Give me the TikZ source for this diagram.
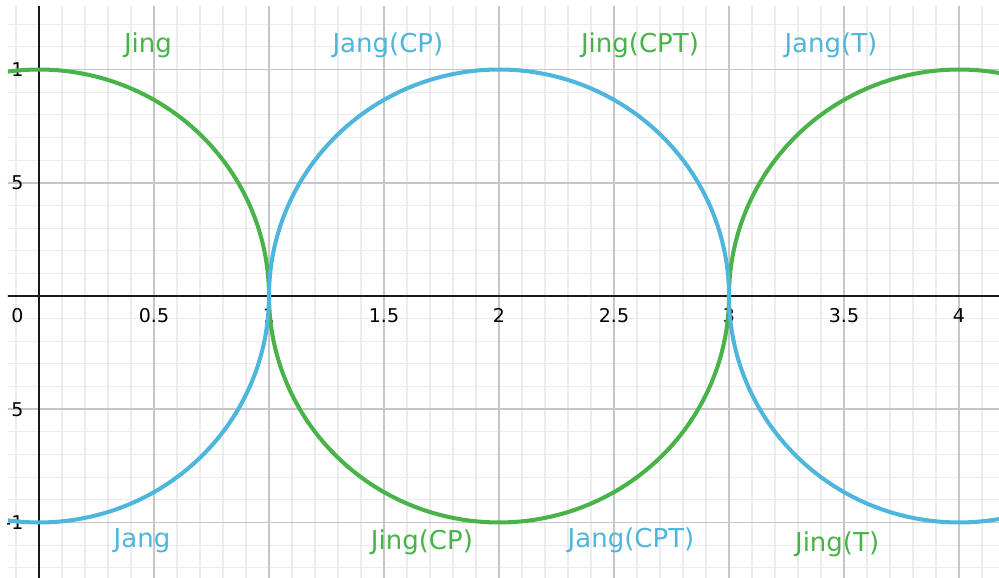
\documentclass[tikz,border=0pt]{standalone}
\usepackage{fontspec}
\setmainfont{DejaVu Sans}
\usepackage{xcolor}
\usepackage{tikz}
\definecolor{cJing}{HTML}{48B348}
\definecolor{cJang}{HTML}{4EB6DC}
\definecolor{minorgrid}{HTML}{ECECEC}
\definecolor{majorgrid}{HTML}{C6C6C6}
\tikzset{curve/.style={line width=1.15pt,line cap=round,line join=round},
  tag/.style={font=\fontsize{7.4}{8}\selectfont,inner sep=0pt},
  num/.style={font=\fontsize{5.4}{6}\selectfont,inner sep=0pt}}

\begin{document}
\begin{tikzpicture}[x=2.3cm,y=2.265cm]
  \useasboundingbox (-0.16957,-1.24503) rectangle (4.17391,1.30684);
  \begin{scope}
    \clip (-0.1348,-1.24503) rectangle (4.17391,1.2759);
    % grid
    \foreach \i in {-2,...,42} \draw[minorgrid,line width=0.3pt] (\i/10,-1.3) -- (\i/10,1.3);
    \foreach \j in {-13,...,13} \draw[minorgrid,line width=0.3pt] (-0.2,\j/10) -- (4.2,\j/10);
    \foreach \i in {0,...,8} \draw[majorgrid,line width=0.45pt] (\i/2,-1.3) -- (\i/2,1.3);
    \foreach \j in {-2,...,2} \draw[majorgrid,line width=0.45pt] (-0.2,\j/2) -- (4.2,\j/2);
    % axes
    \coordinate (xl) at (-0.2,0);
    \coordinate (xr) at (4.2,0);
    \coordinate (yb) at (0,-1.3);
    \coordinate (yt) at (0,1.3);
    \draw[black!90,line width=0.6pt] (xl) -- (xr);
    \draw[black!90,line width=0.6pt] (yb) -- (yt);
    % tick numbers
    \node[num,anchor=east] (n0) at (-0.065,-0.088) {0};
    \foreach \v/\t in {0.5/0.5,1/1,1.5/1.5,2/2,2.5/2.5,3/3,3.5/3.5,4/4}
      \node[num] (nx\t) at (\v,-0.088) {\t};
    \node[num,anchor=east] (ny1) at (-0.065,1) {1};
    \node[num,anchor=east] (ny2) at (-0.065,0.5) {5};
    \node[num,anchor=east] (ny3) at (-0.065,-0.5) {5};
    \node[num,anchor=east] (ny4) at (-0.065,-1) {-1};
    % labels
    \node[tag,text=cJing] (jing) at (0.474,1.108) {Jing};
    \node[tag,text=cJang] (jangcp) at (1.517,1.108) {Jang(CP)};
    \node[tag,text=cJing] (jingcpt) at (2.613,1.108) {Jing(CPT)};
    \node[tag,text=cJang] (jangt) at (3.443,1.108) {Jang(T)};
    \node[tag,text=cJang] (jang) at (0.448,-1.082) {Jang};
    \node[tag,text=cJing] (jingcp) at (1.665,-1.086) {Jing(CP)};
    \node[tag,text=cJang] (jangcpt) at (2.574,-1.077) {Jang(CPT)};
    \node[tag,text=cJing] (jingt) at (3.470,-1.095) {Jing(T)};
    % curves
    \draw[cJing,curve] plot[domain=180:0,samples=90] ({cos(\x)},{sin(\x)})
      -- plot[domain=180:360,samples=90] ({2+cos(\x)},{sin(\x)})
      -- plot[domain=180:0,samples=90] ({4+cos(\x)},{sin(\x)});
    \draw[cJang,curve] plot[domain=180:360,samples=90] ({cos(\x)},{sin(\x)})
      -- plot[domain=180:0,samples=90] ({2+cos(\x)},{sin(\x)})
      -- plot[domain=180:360,samples=90] ({4+cos(\x)},{sin(\x)});
  \end{scope}
\end{tikzpicture}
\end{document}
